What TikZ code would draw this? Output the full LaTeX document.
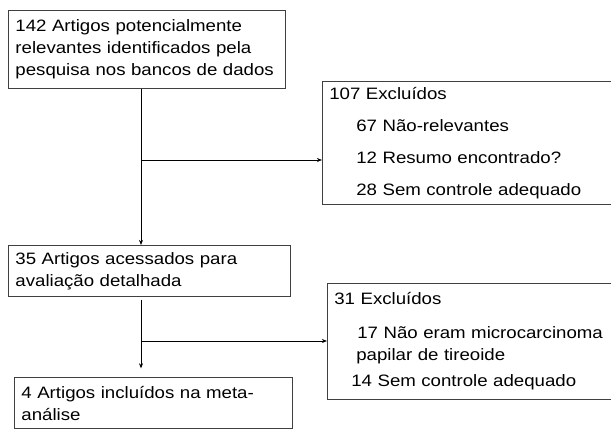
\documentclass[tikz,border=0pt]{standalone}
\usepackage{fontspec}
\setmainfont{Liberation Sans}[FakeStretch=1.13]
\usepackage{tikz}
\usetikzlibrary{positioning}
\usetikzlibrary{arrows.meta}
\tikzstyle{flowbox} = [draw=black!75, line width=0.9pt, rectangle, align=left, inner xsep=7pt, inner ysep=0pt, font=\fontsize{16.5}{22}\selectfont]
\tikzstyle{seta} = [->, >={Stealth[length=5pt, width=4pt]}, line width=0.6pt]

\begin{document}
\begin{tikzpicture}[x=1pt, y=-1pt]
  \useasboundingbox (0,0) rectangle (611,429);

  \node[flowbox, text width=263pt, minimum height=78pt, anchor=north west] (identificados) at (8,10)
    {142 Artigos potencialmente\\relevantes identificados pela\\pesquisa nos bancos de dados};
  \node[flowbox, text width=268pt, minimum height=51pt, below=156pt of identificados.south west, anchor=north west] (avaliados)
    {35 Artigos acessados para\\avaliação detalhada};
  \node[flowbox, text width=264pt, minimum height=50.5pt, below=80.5pt of avaliados.south west, anchor=north west, xshift=6pt] (incluidos)
    {4 Artigos incluídos na meta-\\análise};

  \node[flowbox, text width=340pt, minimum height=123pt, right=36pt of identificados.south east, anchor=north west, yshift=8pt] (excluidos_a)
    {107 Excluídos\\[10pt]
     \hspace*{27pt}67 Não-relevantes\\[10pt]
     \hspace*{27pt}12 Resumo encontrado?\\[10pt]
     \hspace*{27pt}28 Sem controle adequado};
  \node[flowbox, text width=335pt, minimum height=116pt, below=78pt of excluidos_a.south west, anchor=north west, xshift=5pt] (excluidos_b)
    {31 Excluídos\\[12pt]
     \hspace*{23pt}17 Não eram microcarcinoma\\
     \hspace*{22pt}papilar de tireoide\\[4pt]
     \hspace*{17pt}14 Sem controle adequado};

  \coordinate (ramo_a) at (141,160);
  \coordinate (ramo_b) at (141,341);

  \draw[seta] (identificados.south -| ramo_a) -- (avaliados.north -| ramo_a);
  \draw[seta] (ramo_a) -- (ramo_a -| excluidos_a.west);
  \draw[seta, shorten <=3pt, shorten >=9pt] (avaliados.south -| ramo_b) -- (incluidos.north -| ramo_b);
  \draw[seta] (ramo_b) -- (ramo_b -| excluidos_b.west);
\end{tikzpicture}
\end{document}
